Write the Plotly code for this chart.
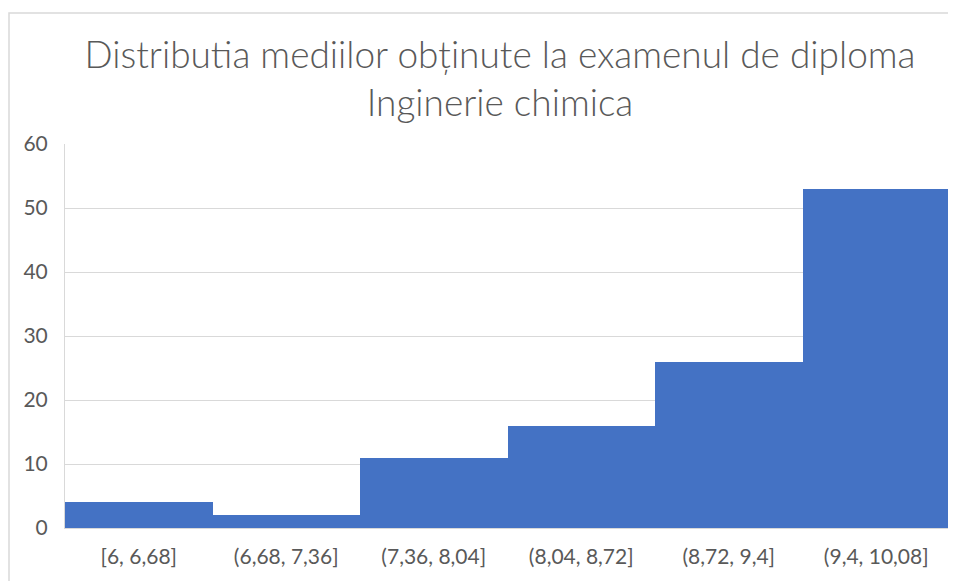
import plotly.graph_objects as go

categories = ["[6, 6,68]", "(6,68, 7,36]", "(7,36, 8,04]", "(8,04, 8,72]", "(8,72, 9,4]", "(9,4, 10,08]"]
counts = [4, 2, 11, 16, 26, 53]
y_ticks = [0, 10, 20, 30, 40, 50, 60]
title_text = "Distributia mediilor obținute la examenul de diploma<br>Inginerie chimica"

# page body has an 8px offset
W, H = 948, 573
ml, mr, mt, mb = 57, 6, 136, 53
pw, ph = W - ml - mr, H - mt - mb


def px_x(px):
    return (px - ml) / pw


def px_y(py):
    return (H - mb - py) / ph


fig = go.Figure()
fig.add_trace(go.Bar(x=categories, y=counts, marker=dict(color="#4472C4", line=dict(width=0)),
                     hoverinfo="x+y"))

fig.update_layout(
    width=W, height=H,
    margin=dict(l=ml, r=mr, t=mt, b=mb),
    paper_bgcolor="white", plot_bgcolor="white",
    bargap=0,
    showlegend=False,
    font=dict(family="Lato, Carlito, sans-serif", color="#595959"),
    title=dict(text=title_text, x=492 / W, xanchor="center", y=1 - 60 / H, yanchor="top",
               font=dict(size=37, color="#595959", family="Lato, Carlito, sans-serif", weight=300)),
    xaxis=dict(showgrid=False, showline=True, linecolor="#d9d9d9", linewidth=1,
               tickfont=dict(size=21, color="#595959"), ticks="", ticklabelstandoff=10),
    yaxis=dict(range=[0, 60], tickvals=y_ticks, showgrid=True, gridcolor="#d9d9d9", gridwidth=1,
               showline=True, linecolor="#d9d9d9", zeroline=False,
               tickfont=dict(size=21, color="#595959"), ticks="", ticklabelstandoff=12),
)

# chart outer border (Excel-style chart area frame)
fig.add_shape(type="rect", xref="paper", yref="paper",
              x0=px_x(1), x1=px_x(943), y0=px_y(H + 10), y1=px_y(5),
              line=dict(color="#d9d9d9", width=1.5), layer="below")

fig.write_html("out.html")
